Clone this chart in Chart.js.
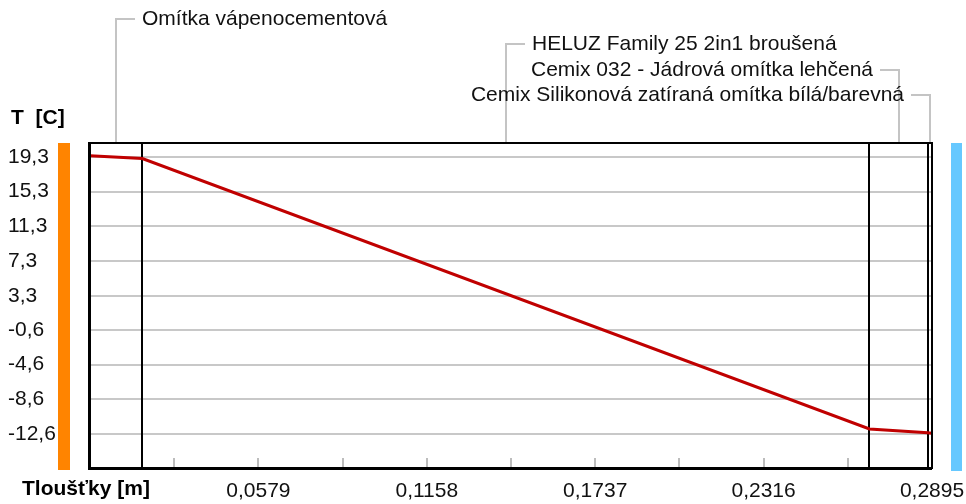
<!DOCTYPE html>
<html>
<head>
<meta charset="utf-8">
<script src="https://cdn.jsdelivr.net/npm/chart.js@4.4.1/dist/chart.umd.min.js"></script>
<style>
  html, body { margin: 0; padding: 0; background: #fff; }
</style>
</head>
<body>
<canvas id="chart" width="966" height="504"></canvas>
<script>
// layer boundaries [m] and temperature at each boundary [C]
const thickness = [0, 0.018, 0.268, 0.288, 0.2895];
const temperature = [19.44, 19.12, -12.0, -12.42, -12.49];

const layerNames = [
    'Omítka vápenocementová',
    'HELUZ Family 25 2in1 broušená',
    'Cemix 032 - Jádrová omítka lehčená',
    'Cemix Silikonová zatíraná omítka bílá/barevná'
];

const yTickValues = [19.3, 15.3, 11.3, 7.3, 3.3, -0.6, -4.6, -8.6, -12.6];
const xTickValues = [0, 0.02895, 0.0579, 0.08685, 0.1158, 0.14475, 0.1737, 0.20265, 0.2316, 0.26055, 0.2895];
const xTickLabels = ['', '', '0,0579', '', '0,1158', '', '0,1737', '', '0,2316', '', '0,2895'];

const FONT = 'Liberation Sans';
Chart.defaults.font.family = FONT;
Chart.defaults.font.size = 21;
Chart.defaults.color = '#111';

/**
 * Frame, layer lines, side bars, titles and layer labels
 */
const decorations = {
    id: 'decorations',
    beforeDatasetsDraw(chart) {
        const { ctx, chartArea: a, scales: { x } } = chart;
        ctx.save();

        // small ticks inside the bottom axis
        ctx.strokeStyle = '#bdbdbd';
        ctx.lineWidth = 2;
        xTickValues.forEach(v => {
            if (v === 0 || v === xTickValues[xTickValues.length - 1]) return;
            const px = Math.round(x.getPixelForValue(v));
            ctx.beginPath();
            ctx.moveTo(px, a.bottom - 11);
            ctx.lineTo(px, a.bottom);
            ctx.stroke();
        });

        // layer boundaries
        ctx.strokeStyle = '#000';
        ctx.lineWidth = 2;
        thickness.slice(1, -1).forEach(t => {
            const px = Math.round(x.getPixelForValue(t));
            ctx.beginPath();
            ctx.moveTo(px, a.top);
            ctx.lineTo(px, a.bottom);
            ctx.stroke();
        });
        ctx.restore();
    },
    afterDraw(chart) {
        const { ctx, chartArea: a, scales: { x } } = chart;
        const w = a.right - a.left;
        const h = a.bottom - a.top;
        ctx.save();

        // frame
        ctx.fillStyle = '#000';
        ctx.fillRect(a.left - 2, a.top - 1, 3, h + 2);
        ctx.fillRect(a.left - 2, a.bottom - 2, w + 2, 3);
        ctx.fillRect(a.left, a.top - 1, w, 2);
        ctx.fillRect(a.right - 1, a.top - 1, 2, h + 1);

        // interior / exterior bars
        ctx.fillStyle = '#ff8400';
        ctx.fillRect(58, a.top, 12, h + 1);
        ctx.fillStyle = '#66c8ff';
        ctx.fillRect(951, a.top, 11, h + 2);

        // axis titles
        ctx.fillStyle = '#000';
        ctx.font = 'bold 21px "' + FONT + '"';
        ctx.textBaseline = 'middle';
        ctx.textAlign = 'left';
        ctx.fillText('T  [C]', 11, 118);
        ctx.fillText('Tloušťky [m]', 22, 489);

        // layer labels with leader lines
        const rows = [19, 44, 70, 95];
        const toRight = [true, true, false, false];
        ctx.font = '21px "' + FONT + '"';
        layerNames.forEach((name, i) => {
            const cx = Math.round(x.getPixelForValue((thickness[i] + thickness[i + 1]) / 2));
            const y = rows[i];
            const dir = toRight[i] ? 1 : -1;
            ctx.strokeStyle = '#c4c4c4';
            ctx.lineWidth = 2;
            ctx.beginPath();
            ctx.moveTo(cx, a.top - 1);
            ctx.lineTo(cx, y);
            ctx.lineTo(cx + dir * 19, y);
            ctx.stroke();
            ctx.fillStyle = '#111';
            ctx.textAlign = toRight[i] ? 'left' : 'right';
            ctx.fillText(name, cx + dir * 26, y);
        });
        ctx.restore();
    }
};

new Chart(document.getElementById('chart'), {
    type: 'line',
    data: {
        datasets: [{
            data: thickness.map((t, i) => ({ x: t, y: temperature[i] })),
            borderColor: '#c00000',
            borderWidth: 3,
            pointRadius: 0,
            tension: 0,
            fill: false
        }]
    },
    options: {
        responsive: false,
        animation: false,
        devicePixelRatio: 1,
        layout: { padding: { left: 8, top: 143, right: 34, bottom: 0 } },
        plugins: {
            legend: { display: false },
            tooltip: { enabled: false }
        },
        scales: {
            x: {
                type: 'linear',
                min: 0,
                max: 0.2895,
                afterBuildTicks: scale => {
                    scale.ticks = xTickValues.map(v => ({ value: v }));
                },
                afterFit: scale => {
                    scale.height = 35;
                    scale.paddingLeft = 0;
                    scale.paddingRight = 0;
                },
                grid: { display: false },
                border: { display: false },
                ticks: {
                    autoSkip: false,
                    maxRotation: 0,
                    padding: 2,
                    callback: (v, i) => xTickLabels[i]
                }
            },
            y: {
                min: -16.6,
                max: 20.9,
                afterBuildTicks: scale => {
                    scale.ticks = yTickValues.map(v => ({ value: v }));
                },
                afterFit: scale => {
                    scale.width = 82;
                    scale.paddingTop = 0;
                    scale.paddingBottom = 0;
                },
                grid: { color: '#c8c8c8', lineWidth: 2, drawTicks: false },
                border: { display: false },
                ticks: {
                    crossAlign: 'far',
                    padding: 0,
                    callback: v => v.toFixed(1).replace('.', ',')
                }
            }
        }
    },
    plugins: [decorations]
});
</script>
</body>
</html>
